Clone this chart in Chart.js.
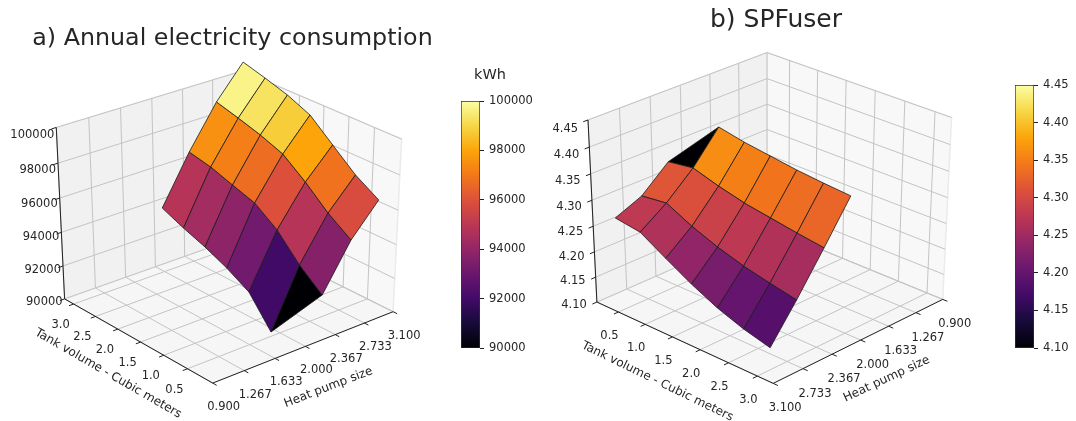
<!DOCTYPE html>
<html>
<head>
<meta charset="utf-8">
<script src="https://cdn.jsdelivr.net/npm/chart.js@4"></script>
<style>
  html, body { margin: 0; background: #fff; }
  #page { position: relative; width: 1076px; height: 421px; overflow: hidden; }
  #page div { position: absolute; }
</style>
</head>
<body>
<div id="page">
  <div style="left:0;top:0;width:465px;height:421px"><canvas id="panelA"></canvas></div>
  <div style="left:540px;top:0;width:472px;height:421px"><canvas id="panelB"></canvas></div>
  <div style="left:450px;top:60px;width:85px;height:300px"><canvas id="barA"></canvas></div>
  <div style="left:1005px;top:70px;width:71px;height:290px"><canvas id="barB"></canvas></div>
</div>
<script>
"use strict";
const heatPumpTicks = [0.9, 1.267, 1.633, 2.0, 2.367, 2.733, 3.1];
const heatPumpLabels = ['0.900', '1.267', '1.633', '2.000', '2.367', '2.733', '3.100'];
const tankTicks = [0.5, 1.0, 1.5, 2.0, 2.5, 3.0];
const tankLabels = ['0.5', '1.0', '1.5', '2.0', '2.5', '3.0'];

// panel a surface grid
const tankGridA = [3.157, 2.686, 2.215, 1.744, 1.272, 0.801, 0.33];
const heatPumpGridA = [2.07, 2.41, 2.75, 3.08];

// annual consumption (kWh), one array per heat pump size, same order as tankGridA
const kwhHp207 = [93555, 92990, 92505, 91910, 91160, 89450, null];
const kwhHp241 = [96350, 96070, 95620, 95190, 94250, 92850, 91760];
const kwhHp275 = [98770, 98400, 98000, 97490, 96480, 95310, 94390];
const kwhHp308 = [100600, 100220, 99800, 99220, 98090, 96970, 96150];
const kwhTicks = [90000, 92000, 94000, 96000, 98000, 100000];

// panel b surface grid
const tankGridB = [0.517, 0.967, 1.417, 1.867, 2.318, 2.768, 3.218];
const heatPumpGridB = [3.1, 2.78, 2.45, 2.13];

// SPFuser, one array per heat pump size, same order as tankGridB
const spfHp310 = [4.285, 4.278, 4.249, 4.221, 4.197, 4.179, 4.166];
const spfHp278 = [4.306, 4.312, 4.288, 4.269, 4.254, 4.243, 4.233];
const spfHp245 = [4.350, 4.357, 4.342, 4.330, 4.322, 4.314, 4.307];
const spfHp213 = [null, 4.414, 4.404, 4.397, 4.390, 4.385, 4.381];
const spfTicks = [4.10, 4.15, 4.20, 4.25, 4.30, 4.35, 4.40, 4.45];

const INFERNO = ['#000004', '#160b39', '#420a68', '#6a176e', '#932667', '#bc3754',
                 '#dd513a', '#f37819', '#fca50a', '#f6d746', '#fcffa4'];
const FONT = '"DejaVu Sans"';
const TEXT = '#262626';
const HP_RANGE = [0.9, 3.1];

function rgb(hex) {
    return [1, 3, 5].map(i => parseInt(hex.substr(i, 2), 16));
}

function inferno(f) {
    f = Math.min(1, Math.max(0, f));
    let p = f * (INFERNO.length - 1);
    let i = Math.min(INFERNO.length - 2, Math.floor(p));
    let a = rgb(INFERNO[i]), b = rgb(INFERNO[i + 1]);
    let c = a.map((v, k) => Math.round(v + (b[k] - v) * (p - i)));
    return 'rgb(' + c.join(',') + ')';
}

// same camera maths as mplot3d: unit box, eye at distance 10
function makeCamera(view) {
    let e = view.elev * Math.PI / 180, az = view.azim * Math.PI / 180;
    let n = [Math.cos(e) * Math.cos(az), Math.cos(e) * Math.sin(az), Math.sin(e)];
    let u = [-Math.sin(az), Math.cos(az), 0];
    let v = [-Math.sin(e) * Math.cos(az), -Math.sin(e) * Math.sin(az), Math.cos(e)];
    let dot = (a, b) => a[0] * b[0] + a[1] * b[1] + a[2] * b[2];
    let tr = view.tankRange;
    let norm = (hp, tank, z) => [
        (hp - HP_RANGE[0]) / (HP_RANGE[1] - HP_RANGE[0]) - 0.5,
        (tank - tr[0]) / (tr[1] - tr[0]) - 0.5,
        (z - view.zMin) / (view.zMax - view.zMin) - 0.5];
    return {
        depth: (hp, tank, z) => dot(n, norm(hp, tank, z)),
        point: (hp, tank, z) => {
            let r = norm(hp, tank, z);
            let w = 10 - dot(n, r);
            return {x: dot(u, r) / w, y: dot(v, r) / w};
        }
    };
}

function buildDatasets(view, cam) {
    let ds = [];
    let seg = (a, b, color, width) => ds.push({
        data: [a, b], showLine: true, pointRadius: 0, borderColor: color,
        borderWidth: width, fill: false, clip: false
    });
    let P = cam.point;
    let z0 = view.zMin, z1 = view.zMax;
    let hf = view.hpFront, hb = view.hpBack, tf = view.tankFront, tb = view.tankBack;
    let hOut = (hf - hb) * 0.025, tOut = (tf - tb) * 0.025;

    // axis lines and tick marks
    seg(P(hf, tf, z0), P(hf, tb, z0), '#222', 1);
    seg(P(hf, tf, z0), P(hb, tf, z0), '#222', 1);
    seg(P(hf, tb, z0), P(hf, tb, z1), '#222', 1);
    tankTicks.forEach(t => seg(P(hf, t, z0), P(hf + hOut, t, z0), '#222', 1));
    heatPumpTicks.forEach(h => seg(P(h, tf, z0), P(h, tf + tOut, z0), '#222', 1));
    view.zTicks.forEach(z => seg(P(hf, tb, z), P(hf + hOut, tb, z), '#222', 1));

    // surface, nearest cell first because chart.js paints the list backwards
    let cells = [];
    for (let i = 0; i < view.rows.length - 1; i++) {
        for (let j = 0; j < view.tanks.length - 1; j++) {
            let corners = [[i, j], [i + 1, j], [i + 1, j + 1], [i, j + 1]];
            let valid = corners.filter(c => view.rows[c[0]][c[1]] !== null);
            let pts = valid.map(c => [view.hps[c[0]], view.tanks[c[1]], view.rows[c[0]][c[1]]]);
            let mean = pts.reduce((s, p) => s + p[2], 0) / pts.length;
            let d = pts.reduce((s, p) => s + cam.depth(p[0], p[1], p[2]), 0) / pts.length;
            // a cell with a missing corner is the bad colour
            let color = valid.length < 4 ? '#000004'
                : inferno((mean - view.colorRange[0]) / (view.colorRange[1] - view.colorRange[0]));
            let path = pts.map(p => P(p[0], p[1], p[2]));
            path.push(path[0]);
            cells.push({d: d, path: path, color: color});
        }
    }
    cells.sort((a, b) => b.d - a.d);
    cells.forEach(c => ds.push({
        data: c.path, showLine: true, pointRadius: 0, tension: 0, fill: 'shape',
        backgroundColor: c.color, borderColor: '#1a1a1a', borderWidth: 0.8, clip: false
    }));

    // grid on floor and back walls
    const GRID = '#c4c4c4';
    tankTicks.forEach(t => {
        seg(P(hf, t, z0), P(hb, t, z0), GRID, 1);
        seg(P(hb, t, z0), P(hb, t, z1), GRID, 1);
    });
    heatPumpTicks.forEach(h => {
        seg(P(h, tf, z0), P(h, tb, z0), GRID, 1);
        seg(P(h, tb, z0), P(h, tb, z1), GRID, 1);
    });
    view.zTicks.forEach(z => {
        seg(P(hf, tb, z), P(hb, tb, z), GRID, 1);
        seg(P(hb, tb, z), P(hb, tf, z), GRID, 1);
    });

    // panes
    let pane = (path, color) => ds.push({
        data: path.concat([path[0]]), showLine: true, pointRadius: 0, tension: 0, fill: 'shape',
        backgroundColor: color, borderColor: '#ebebeb', borderWidth: 1.5, clip: false
    });
    pane([P(hf, tb, z0), P(hb, tb, z0), P(hb, tb, z1), P(hf, tb, z1)], view.leftPane);
    pane([P(hb, tb, z0), P(hb, tf, z0), P(hb, tf, z1), P(hb, tb, z1)], view.rightPane);
    pane([P(hf, tf, z0), P(hf, tb, z0), P(hb, tb, z0), P(hb, tf, z0)], '#f6f6f6');
    return ds;
}

// tick labels and axis titles of the 3D box, placed through the chart scales
const axisText = {
    id: 'axisText',
    afterDatasetsDraw(chart, args, opts) {
        let view = opts.view, cam = opts.cam;
        let ctx = chart.ctx;
        let sx = chart.scales.x, sy = chart.scales.y;
        let put = (s, p, dx, dy, align, rot) => {
            ctx.save();
            ctx.translate(sx.getPixelForValue(p.x) + dx, sy.getPixelForValue(p.y) + dy);
            ctx.rotate((rot || 0) * Math.PI / 180);
            ctx.textAlign = align;
            ctx.textBaseline = 'middle';
            ctx.fillText(s, 0, 0);
            ctx.restore();
        };
        let z0 = view.zMin;
        ctx.save();
        ctx.fillStyle = TEXT;
        ctx.font = '11.5px ' + FONT;
        heatPumpTicks.forEach((h, i) => put(heatPumpLabels[i], cam.point(h, view.tankFront, z0), view.hpOff[0], view.hpOff[1], 'center'));
        tankTicks.forEach((t, i) => put(tankLabels[i], cam.point(view.hpFront, t, z0), view.tankOff[0], view.tankOff[1], 'center'));
        view.zTicks.forEach((z, i) => {
            let dy = view.zOff[1] + view.zOff[2] * i / (view.zTicks.length - 1);
            put(view.zLabels[i], cam.point(view.hpFront, view.tankBack, z), view.zOff[0], dy, 'right');
        });
        ctx.font = '12px ' + FONT;
        let hpMid = cam.point((HP_RANGE[0] + HP_RANGE[1]) / 2, view.tankFront, z0);
        let tankMid = cam.point(view.hpFront, (view.tankRange[0] + view.tankRange[1]) / 2, z0);
        put('Heat pump size', hpMid, view.hpTitle[0], view.hpTitle[1], 'center', view.hpTitle[2]);
        put('Tank volume - Cubic meters', tankMid, view.tankTitle[0], view.tankTitle[1], 'center', view.tankTitle[2]);
        ctx.restore();
    }
};

// unit caption above a colorbar, off-centre from the canvas so not the title plugin
const barCaption = {
    id: 'barCaption',
    afterDraw(chart, args, opts) {
        if (!opts.text) return;
        let ctx = chart.ctx;
        ctx.save();
        ctx.fillStyle = TEXT;
        ctx.font = '14.5px ' + FONT;
        ctx.textAlign = 'center';
        ctx.textBaseline = 'middle';
        ctx.fillText(opts.text, chart.chartArea.right + 10, chart.chartArea.top - 26);
        ctx.restore();
    }
};

function drawPanel(id, title, view) {
    let cam = makeCamera(view);
    let top = view.titlePad + view.titleSize * 1.2;
    return new Chart(document.getElementById(id), {
        type: 'scatter',
        data: {datasets: buildDatasets(view, cam)},
        plugins: [axisText],
        options: {
            responsive: false,
            animation: false,
            events: [],
            layout: {padding: 0},
            scales: {
                x: {type: 'linear', display: false, min: -view.cx / view.kx, max: (view.width - view.cx) / view.kx},
                y: {type: 'linear', display: false, min: (view.cy - 421) / view.ky, max: (view.cy - top) / view.ky}
            },
            plugins: {
                legend: {display: false},
                tooltip: {enabled: false},
                title: {
                    display: true, text: title, color: TEXT,
                    font: {family: FONT, size: view.titleSize, weight: 'normal'},
                    padding: {top: view.titlePad, bottom: 0}
                },
                axisText: {view: view, cam: cam}
            }
        }
    });
}

function drawColorbar(id, ticks, digits, caption, pad) {
    let lo = ticks[0], hi = ticks[ticks.length - 1];
    return new Chart(document.getElementById(id), {
        type: 'bar',
        data: {
            labels: [''],
            datasets: [{
                data: [[lo, hi]],
                barPercentage: 1, categoryPercentage: 1,
                borderWidth: 1, borderColor: '#333', borderSkipped: false,
                backgroundColor: c => {
                    let a = c.chart.chartArea;
                    if (!a) return '#000';
                    let g = c.chart.ctx.createLinearGradient(0, a.bottom, 0, a.top);
                    INFERNO.forEach((col, i) => g.addColorStop(i / (INFERNO.length - 1), col));
                    return g;
                }
            }]
        },
        plugins: [barCaption],
        options: {
            responsive: false,
            animation: false,
            events: [],
            layout: {padding: pad},
            scales: {
                x: {display: false},
                y: {
                    position: 'right', min: lo, max: hi,
                    afterBuildTicks: s => { s.ticks = ticks.map(v => ({value: v})); },
                    afterFit: s => { s.width = pad.axis; },
                    grid: {drawOnChartArea: false, drawTicks: true, tickLength: 4, color: '#222'},
                    border: {display: false},
                    ticks: {
                        color: TEXT, padding: 5, autoSkip: false, maxRotation: 0,
                        font: {family: FONT, size: 11.5},
                        callback: v => digits ? Number(v).toFixed(digits) : String(v)
                    }
                }
            },
            plugins: {
                legend: {display: false},
                tooltip: {enabled: false},
                barCaption: {text: caption}
            }
        }
    });
}

document.getElementById('panelA').width = 465;
document.getElementById('panelA').height = 421;
document.getElementById('panelB').width = 472;
document.getElementById('panelB').height = 421;
document.getElementById('barA').width = 85;
document.getElementById('barA').height = 300;
document.getElementById('barB').width = 71;
document.getElementById('barB').height = 290;

drawPanel('panelA', 'a) Annual electricity consumption', {
    elev: 30, azim: -130, kx: 2390, ky: 1985, cx: 228, cy: 221.4, width: 465, titlePad: 24.5, titleSize: 23.75,
    zMin: 90000, zMax: 100000, zTicks: kwhTicks, zLabels: kwhTicks.map(String), colorRange: [90000, 99800],
    tankRange: [-0.02, 3.21],
    hpFront: 0.9, hpBack: 3.1, tankFront: -0.02, tankBack: 3.21,
    hps: heatPumpGridA, tanks: tankGridA, rows: [kwhHp207, kwhHp241, kwhHp275, kwhHp308],
    leftPane: '#f1f1f1', rightPane: '#f8f8f8',
    hpOff: [11, 24], tankOff: [-13, 21], zOff: [-2, 3, 5],
    hpTitle: [23, 41, -21], tankTitle: [-28, 34, 30]
});

drawPanel('panelB', 'b) SPFuser', {
    elev: 30, azim: 44, kx: 2507, ky: 2100, cx: 230, cy: 212, width: 472, titlePad: 5, titleSize: 25,
    zMin: 4.10, zMax: 4.45, zTicks: spfTicks, zLabels: spfTicks.map(v => v.toFixed(2)), colorRange: [4.118, 4.468],
    tankRange: [0.09, 3.27],
    hpFront: 3.1, hpBack: 0.9, tankFront: 3.27, tankBack: 0.09,
    hps: heatPumpGridB, tanks: tankGridB, rows: [spfHp310, spfHp278, spfHp245, spfHp213],
    leftPane: '#f1f1f1', rightPane: '#f8f8f8',
    hpOff: [12, 25], tankOff: [-9, 24], zOff: [-10, 3, 6],
    hpTitle: [26, 39, -25], tankTitle: [-25, 40, 26]
});

drawColorbar('barA', kwhTicks, 0, 'kWh', {top: 41, bottom: 11, left: 11, right: 0, axis: 55});
drawColorbar('barB', spfTicks, 2, '', {top: 15, bottom: 12, left: 10, right: 0, axis: 42});
</script>
</body>
</html>
